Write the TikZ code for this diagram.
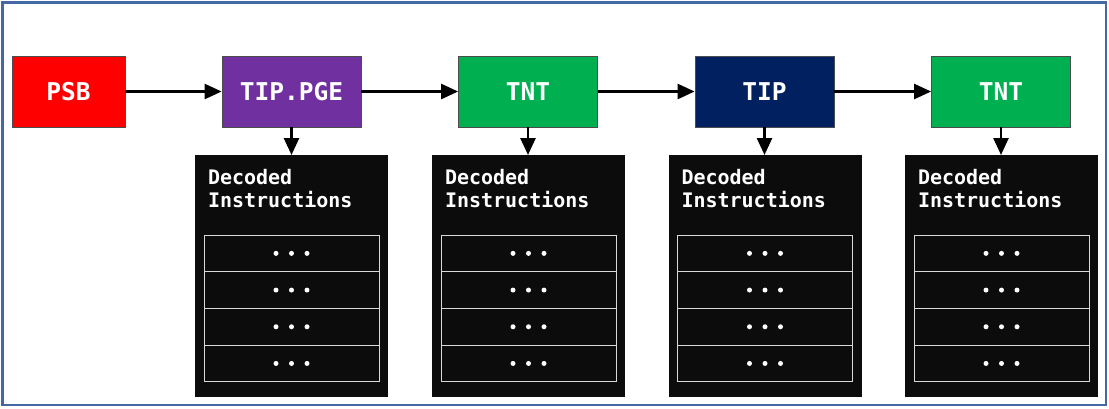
\documentclass[tikz,border=0pt]{standalone}
\usepackage{fontspec}
\newfontfamily\monob{DejaVu Sans Mono}[BoldFont=* Bold]
\usetikzlibrary{arrows.meta}
\definecolor{psbred}{RGB}{255,0,0}
\definecolor{pgepurple}{RGB}{112,48,160}
\definecolor{tntgreen}{RGB}{0,176,80}
\definecolor{tipblue}{RGB}{0,32,96}
\definecolor{frameblue}{RGB}{68,104,162}
\definecolor{panelblack}{RGB}{12,12,12}
\tikzset{
  x=1pt, y=-1pt,
  pkt/.style={draw=black!70, line width=0.8pt, minimum width=139pt, minimum height=71pt,
    inner sep=0pt, text=white, font=\monob\bfseries\fontsize{24.5}{28}\selectfont},
  panel/.style={fill=panelblack, draw=none, minimum width=193pt, minimum height=242pt, inner sep=0pt},
  rowbox/.style={draw=white!85!black, line width=1pt, fill=panelblack, minimum width=175pt, minimum height=36.7pt, inner sep=0pt},
  conn/.style={line width=2.6pt, -{Triangle[length=17pt,width=15pt]}},
  dectext/.style={text=white, align=left, anchor=north west, inner sep=0pt,
    font=\monob\bfseries\fontsize{20}{23}\selectfont},
  dot/.style={circle, fill=white, inner sep=0pt, minimum size=5pt}
}
\begin{document}
\begin{tikzpicture}
\useasboundingbox (0,0) rectangle (1109,408);
\fill[white] (0,0) rectangle (1109,408);
\draw[frameblue, line width=2.5pt] (2.5,2.5) rectangle (1106,405);

% packet boxes
\node[pkt, fill=psbred, minimum width=113pt] (psb) at (68.5,91.5) {PSB};
\node[pkt, fill=pgepurple] (pge) at (291.5,91.5) {TIP.PGE};
\node[pkt, fill=tntgreen] (tnt1) at (528,91.5) {TNT};
\node[pkt, fill=tipblue] (tip) at (764.5,91.5) {TIP};
\node[pkt, fill=tntgreen] (tnt2) at (1001,91.5) {TNT};

\draw[conn] (psb) -- (pge);
\draw[conn] (pge) -- (tnt1);
\draw[conn] (tnt1) -- (tip);
\draw[conn] (tip) -- (tnt2);

% panels
\foreach \n/\cx/\src in {1/291.5/pge, 2/528.5/tnt1, 3/765/tip, 4/1001.5/tnt2} {
  \node[panel, anchor=north] (panel\n) at (\cx,155) {};
  \draw[conn] (\src.south) -- (\src.south |- panel\n.north);
  \node[dectext] (dec\n) at ([xshift=13pt,yshift=-14pt]panel\n.north west) {Decoded\\Instructions};
  \foreach \r in {0,1,2,3} {
    \node[rowbox] (row\n\r) at (\cx,253.35+36.7*\r) {};
    \node[dot] (d\n\r a) at ([xshift=-15.5pt]row\n\r.center) {};
    \node[dot] (d\n\r b) at (row\n\r.center) {};
    \node[dot] (d\n\r c) at ([xshift=15.5pt]row\n\r.center) {};
  }
}
\end{tikzpicture}
\end{document}
